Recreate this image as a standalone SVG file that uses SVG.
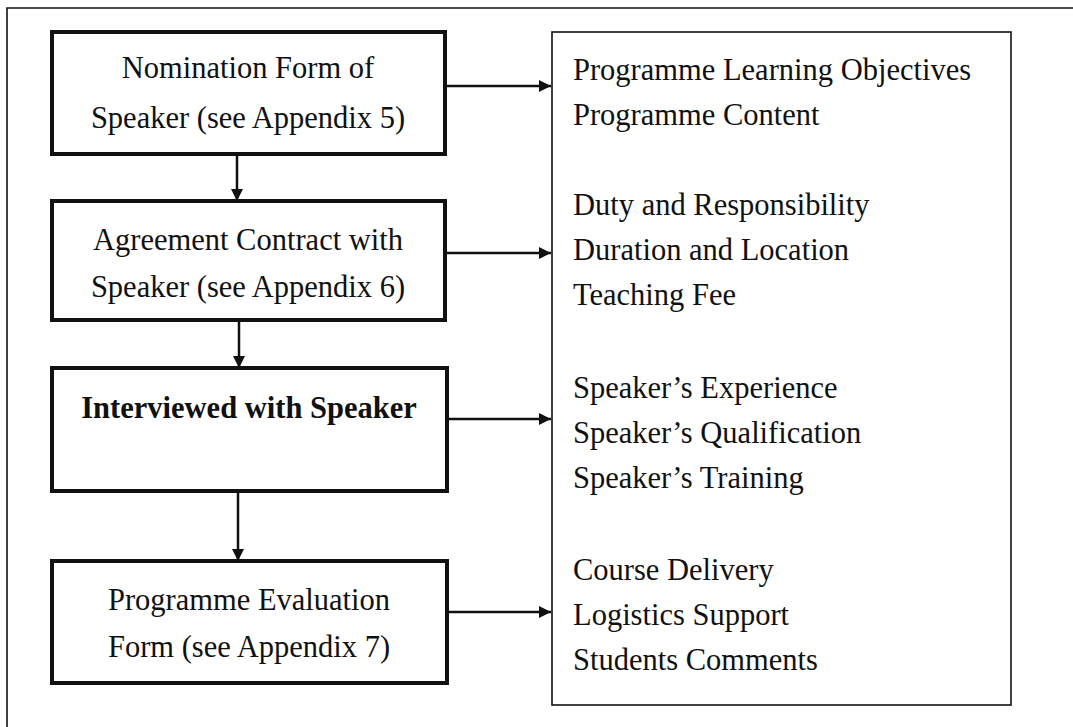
<svg xmlns="http://www.w3.org/2000/svg" width="1073" height="727" viewBox="0 0 1073 727">
<style>
.t{font-family:"Liberation Serif","Times New Roman",serif;font-size:30.5px;fill:#111}
.c{text-anchor:middle}
.b{font-weight:bold}
.node{fill:#fff;stroke:#111;stroke-width:4}
.list{fill:#fff;stroke:#111;stroke-width:1.6}
.edge{stroke:#111;stroke-width:2.5;fill:none;marker-end:url(#ah)}
</style>
<defs>
<marker id="ah" viewBox="0 0 10 10" refX="10" refY="5" markerWidth="5" markerHeight="5" markerUnits="strokeWidth" orient="auto">
<path d="M0,0 L10,5 L0,10 z" fill="#111"/>
</marker>
</defs>
<rect width="1073" height="727" fill="#fff"/>
<g id="frame" fill="none" stroke="#111" stroke-width="1.6">
<path d="M7,727 L7,8 L1073,8"/>
</g>
<g id="connectors">
<line class="edge" x1="237" y1="154" x2="237" y2="201"/>
<line class="edge" x1="239" y1="320" x2="239" y2="368"/>
<line class="edge" x1="238" y1="491" x2="238" y2="561"/>
<line class="edge" x1="445" y1="86" x2="551" y2="86"/>
<line class="edge" x1="445" y1="253" x2="551" y2="253"/>
<line class="edge" x1="447" y1="419" x2="551" y2="419"/>
<line class="edge" x1="447" y1="612" x2="551" y2="612"/>
</g>
<g id="n1">
<rect class="node" x="52" y="32" width="393" height="122"/>
<text class="t c" x="248" y="78">Nomination Form of</text>
<text class="t c" x="248" y="128">Speaker (see Appendix 5)</text>
</g>
<g id="n2">
<rect class="node" x="52" y="201" width="393" height="119"/>
<text class="t c" x="248" y="250">Agreement Contract with</text>
<text class="t c" x="248" y="297">Speaker (see Appendix 6)</text>
</g>
<g id="n3">
<rect class="node" x="52" y="368" width="395" height="123"/>
<text class="t c b" x="249" y="418">Interviewed with Speaker</text>
</g>
<g id="n4">
<rect class="node" x="52" y="561" width="395" height="122"/>
<text class="t c" x="249" y="610">Programme Evaluation</text>
<text class="t c" x="249" y="657">Form (see Appendix 7)</text>
</g>
<g id="outcomes">
<rect class="list" x="552" y="32" width="459" height="673"/>
<text class="t" x="573" y="80">Programme Learning Objectives</text>
<text class="t" x="573" y="125">Programme Content</text>
<text class="t" x="573" y="215">Duty and Responsibility</text>
<text class="t" x="573" y="260">Duration and Location</text>
<text class="t" x="573" y="305">Teaching Fee</text>
<text class="t" x="573" y="398">Speaker’s Experience</text>
<text class="t" x="573" y="443">Speaker’s Qualification</text>
<text class="t" x="573" y="488">Speaker’s Training</text>
<text class="t" x="573" y="580">Course Delivery</text>
<text class="t" x="573" y="625">Logistics Support</text>
<text class="t" x="573" y="670">Students Comments</text>
</g>
</svg>
